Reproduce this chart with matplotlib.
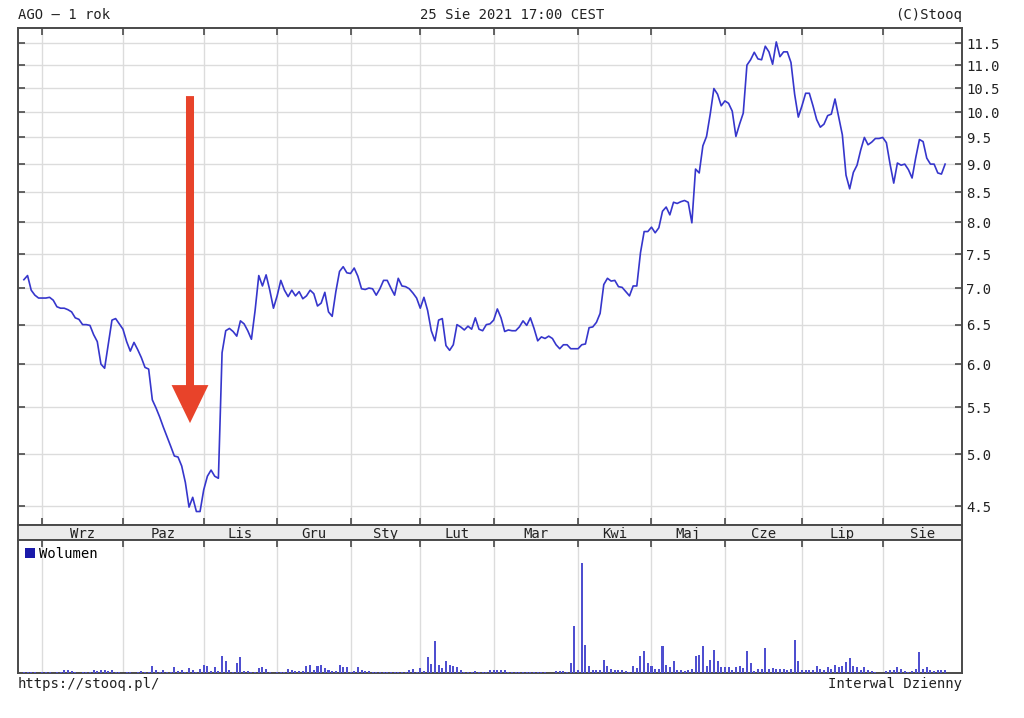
import numpy as np
import matplotlib.pyplot as plt
from matplotlib.patches import FancyArrow, Patch
from matplotlib.ticker import FixedLocator, NullLocator, FormatStrFormatter

plt.rcParams['font.family'] = ['DejaVu Sans Mono', 'DejaVu Sans']
plt.rcParams['font.size'] = 10

# months shown on the axis (first and last are partial)
months = ['Sie', 'Wrz', 'Paz', 'Lis', 'Gru', 'Sty', 'Lut', 'Mar', 'Kwi', 'Maj', 'Cze', 'Lip', 'Sie']
# trading days in each month of the window
month_days = [5, 22, 22, 20, 20, 19, 20, 23, 20, 20, 21, 22, 18]

# AGO close, one value per trading day
price = [
    7.12, 7.18, 6.97, 6.90, 6.86, 6.86, 6.86, 6.87, 6.83, 6.74,
    6.72, 6.72, 6.70, 6.67, 6.59, 6.57, 6.50, 6.50, 6.49, 6.37,
    6.28, 6.00, 5.95, 6.25, 6.56, 6.58, 6.51, 6.44, 6.28, 6.16,
    6.27, 6.18, 6.08, 5.96, 5.94, 5.58, 5.49, 5.39, 5.28, 5.18,
    5.08, 4.98, 4.97, 4.88, 4.72, 4.49, 4.58, 4.45, 4.45, 4.65,
    4.78, 4.84, 4.78, 4.76, 6.14, 6.42, 6.45, 6.41, 6.35, 6.55,
    6.51, 6.42, 6.31, 6.69, 7.18, 7.03, 7.19, 6.97, 6.72, 6.89,
    7.11, 6.97, 6.88, 6.97, 6.89, 6.95, 6.85, 6.89, 6.97, 6.92,
    6.75, 6.79, 6.94, 6.67, 6.61, 6.95, 7.24, 7.31, 7.22, 7.21,
    7.29, 7.17, 6.99, 6.98, 7.00, 6.99, 6.90, 6.99, 7.11, 7.11,
    7.00, 6.90, 7.14, 7.03, 7.02, 6.99, 6.93, 6.86, 6.72, 6.87,
    6.69, 6.42, 6.29, 6.56, 6.58, 6.23, 6.17, 6.24, 6.50, 6.47,
    6.43, 6.48, 6.44, 6.59, 6.44, 6.42, 6.50, 6.51, 6.56, 6.71,
    6.59, 6.41, 6.43, 6.42, 6.42, 6.47, 6.55, 6.49, 6.59, 6.45,
    6.29, 6.34, 6.32, 6.35, 6.32, 6.24, 6.19, 6.24, 6.24, 6.19,
    6.19, 6.19, 6.24, 6.25, 6.46, 6.47, 6.53, 6.65, 7.05, 7.14,
    7.10, 7.11, 7.02, 7.01, 6.95, 6.89, 7.03, 7.03, 7.52, 7.85,
    7.85, 7.92, 7.83, 7.91, 8.18, 8.25, 8.12, 8.33, 8.31, 8.34,
    8.36, 8.33, 7.99, 8.91, 8.84, 9.34, 9.52, 9.96, 10.49, 10.37,
    10.13, 10.23, 10.18, 10.02, 9.52, 9.76, 9.98, 11.00, 11.12, 11.29,
    11.14, 11.12, 11.43, 11.30, 11.02, 11.53, 11.19, 11.30, 11.30, 11.06,
    10.37, 9.90, 10.13, 10.39, 10.39, 10.13, 9.85, 9.70, 9.76, 9.93,
    9.96, 10.27, 9.90, 9.55, 8.80, 8.56, 8.85, 8.98, 9.26, 9.50,
    9.36, 9.41, 9.48, 9.48, 9.50, 9.40, 9.00, 8.66, 9.02, 8.98,
    9.00, 8.90, 8.75, 9.12, 9.46, 9.42, 9.11, 9.00, 9.00, 8.84,
    8.82, 9.00,
]

# daily volume, relative units
volume = [
    1, 1, 1, 1, 0, 1, 1, 1, 0, 1,
    1, 3, 3, 2, 1, 0, 1, 1, 1, 3,
    2, 3, 3, 2, 3, 1, 1, 0, 1, 1,
    0, 1, 2, 1, 1, 7, 3, 1, 3, 1,
    1, 6, 2, 3, 1, 5, 3, 1, 4, 8,
    7, 2, 6, 2, 17, 12, 3, 1, 10, 16,
    2, 2, 1, 1, 5, 6, 4, 1, 0, 1,
    1, 1, 4, 3, 2, 2, 2, 7, 8, 3,
    7, 8, 5, 3, 2, 2, 8, 6, 6, 1,
    2, 6, 3, 2, 2, 1, 1, 1, 1, 1,
    1, 1, 1, 1, 1, 3, 4, 1, 5, 2,
    16, 9, 32, 8, 5, 12, 8, 7, 6, 3,
    1, 1, 1, 2, 1, 1, 1, 3, 3, 3,
    3, 3, 1, 1, 1, 1, 1, 1, 1, 1,
    1, 1, 1, 0, 0, 2, 2, 2, 1, 10,
    47, 3, 110, 28, 7, 3, 3, 3, 13, 7,
    4, 3, 3, 3, 2, 1, 7, 5, 17, 22,
    10, 7, 4, 4, 27, 8, 6, 12, 3, 3,
    2, 3, 4, 17, 18, 27, 7, 13, 23, 12,
    6, 6, 6, 3, 6, 7, 5, 22, 10, 2,
    4, 4, 25, 4, 5, 4, 4, 4, 3, 4,
    33, 12, 3, 3, 3, 3, 7, 4, 3, 6,
    4, 8, 6, 7, 11, 15, 7, 6, 3, 6,
    3, 2, 1, 0, 0, 2, 3, 3, 6, 4,
    2, 1, 2, 4, 21, 4, 6, 3, 2, 3,
    3, 3,
]

y_ticks = [4.5, 5.0, 5.5, 6.0, 6.5, 7.0, 7.5, 8.0, 8.5, 9.0, 9.5, 10.0, 10.5, 11.0, 11.5]

days = np.arange(len(price))
starts = np.cumsum([0] + month_days[:-1])
x_min, x_max = -1.6, 255.6

line_col = '#3636cc'
frame_col = '#4a4a4a'
grid_col = '#dcdcdc'

fig = plt.figure(figsize=(10.24, 7.18), dpi=100)
L, R = 18 / 1024, 962 / 1024


def fy(px):
    return 1 - px / 718


ax = fig.add_axes([L, fy(525), R - L, fy(28) - fy(525)])
ax_m = fig.add_axes([L, fy(540), R - L, fy(525) - fy(540)])
ax_v = fig.add_axes([L, fy(673), R - L, fy(540) - fy(673)])

for a in (ax, ax_m, ax_v):
    a.set_xlim(x_min, x_max)
    for s in a.spines.values():
        s.set_color(frame_col)
        s.set_linewidth(1.4)

# price panel
ax.plot(days, price, color=line_col, lw=1.2, zorder=3)
ax.set_yscale('log')
ax.set_ylim(4.33, 11.86)
ax.yaxis.set_major_locator(FixedLocator(y_ticks))
ax.yaxis.set_minor_locator(NullLocator())
ax.yaxis.set_major_formatter(FormatStrFormatter('%.1f'))
ax.set_xticks(starts[1:])
ax.grid(True, color=grid_col, lw=1)
ax.set_axisbelow(True)
ax.tick_params(axis='x', direction='in', top=True, bottom=True, labelbottom=False,
               length=5, width=1.2, color=frame_col)
ax.tick_params(axis='y', direction='in', left=True, right=True, labelleft=False,
               labelright=True, length=5, width=1.2, color=frame_col, pad=3,
               labelsize=10, labelcolor='#222222')

# red arrow
ax.add_patch(FancyArrow(0.1822, 0.863, 0, -0.658, width=0.0085, head_width=0.039,
                        head_length=0.0765, length_includes_head=True,
                        transform=ax.transAxes, color='#e8432a', lw=0, zorder=5))

# month strip
ax_m.set_facecolor('#ebebeb')
ax_m.set_ylim(0, 1)
ax_m.set_xticks([])
ax_m.set_yticks([])
ends = list(starts[1:]) + [x_max]
for name, s, e in zip(months[1:], starts[1:], ends[1:]):
    ax_m.text((s + e) / 2, 0.14, name, ha='center', va='baseline', fontsize=10,
              color='#222222', zorder=4)

# volume panel
ax_v.bar(days, volume, width=0.55, color='#4f4fd0', zorder=3)
ax_v.set_ylim(0, 133)
ax_v.set_yticks([])
ax_v.set_xticks(starts[1:])
ax_v.grid(True, axis='x', color=grid_col, lw=1)
ax_v.set_axisbelow(True)
ax_v.tick_params(axis='x', direction='in', top=True, bottom=False, labelbottom=False,
                 length=5, width=1.2, color=frame_col)
ax_v.legend(handles=[Patch(facecolor='#1a1aaa')], labels=['Wolumen'], loc='upper left',
            frameon=False, handlelength=0.7, handleheight=0.7, handletextpad=0.3,
            borderaxespad=0.3, borderpad=0.2, fontsize=10)

# header and footer
fig.text(L, fy(15), 'AGO – 1 rok', ha='left', va='center', color='#222222')
fig.text(0.5, fy(15), '25 Sie 2021 17:00 CEST', ha='center', va='center', color='#222222')
fig.text(R, fy(15), '(C)Stooq', ha='right', va='center', color='#222222')
fig.text(L, fy(684), 'https://stooq.pl/', ha='left', va='center', color='#222222')
fig.text(R, fy(684), 'Interwal Dzienny', ha='right', va='center', color='#222222')

fig.savefig('out.png', dpi=100)
